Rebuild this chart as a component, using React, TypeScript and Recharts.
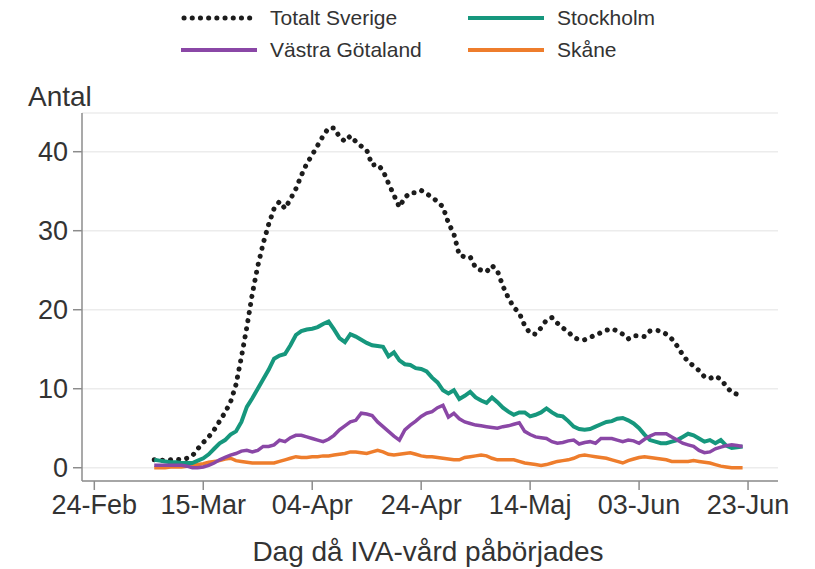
import { LineChart, Line, XAxis, YAxis, CartesianGrid } from 'recharts'

// ─── Data ─────────────────────────────────────────────────────────────────────

// days counted from 24-Feb; series start on day 11 (06-Mar)
const FIRST_DAY = 11

const xTicks = [0, 20, 40, 60, 80, 100, 120]
const xTickLabels = ['24-Feb', '15-Mar', '04-Apr', '24-Apr', '14-Maj', '03-Jun', '23-Jun']
const yTicks = [0, 10, 20, 30, 40]

const totaltSverige = [
  1.0, 1.0, 0.9, 1.0, 1.1, 1.0, 1.2, 1.5, 2.4, 3.2,
  3.9, 4.8, 5.9, 7.0, 8.3, 10.5, 14.0, 17.8, 22.0, 25.5,
  28.4, 30.8, 32.8, 33.7, 32.8, 34.0, 35.3, 37.0, 38.5, 39.6,
  40.8, 42.0, 43.0, 43.0, 41.9, 41.3, 42.0, 41.3, 40.7, 40.2,
  38.3, 38.4, 37.6, 36.0, 34.5, 33.0, 34.2, 34.8, 34.8, 35.1,
  34.7, 34.2, 33.7, 33.0, 31.0, 29.6, 26.9, 26.7, 26.7, 25.3,
  25.0, 24.8, 25.6, 24.9, 23.0, 21.5, 20.3, 19.6, 18.0, 17.0,
  16.9, 17.7, 18.7, 19.0, 18.3, 17.7, 17.2, 16.5, 16.2, 16.2,
  16.5, 16.8, 17.1, 17.4, 17.6, 17.3, 16.9, 16.3, 16.7, 16.7,
  16.6, 17.3, 17.4, 17.3, 16.9, 16.3, 15.4, 14.3, 13.4, 12.9,
  12.3, 11.5, 11.3, 11.6, 11.2, 10.3, 9.5, 9.3, 9.7,
]

const stockholm = [
  1.0, 0.9, 0.8, 0.7, 0.7, 0.6, 0.6, 0.6, 0.9, 1.2,
  1.7, 2.4, 3.1, 3.5, 4.2, 4.6, 5.8, 7.7, 8.8, 10.0,
  11.2, 12.4, 13.8, 14.2, 14.4, 15.5, 16.8, 17.3, 17.5, 17.6,
  17.8, 18.2, 18.5, 17.5, 16.4, 15.9, 16.9, 16.6, 16.2, 15.8,
  15.5, 15.4, 15.3, 14.1, 14.6, 13.6, 13.1, 13.0, 12.6, 12.5,
  12.2, 11.4, 10.8, 9.8, 9.4, 9.8, 8.7, 9.1, 9.6, 8.9,
  8.5, 8.2, 8.9, 8.3, 7.6, 7.1, 6.7, 7.0, 7.0, 6.5,
  6.7, 7.0, 7.5, 7.0, 6.6, 6.5, 5.9, 5.2, 4.9, 4.8,
  4.9, 5.2, 5.5, 5.8, 5.9, 6.2, 6.3, 6.0, 5.6, 5.0,
  4.2, 3.5, 3.3, 3.1, 3.1, 3.3, 3.5, 3.9, 4.3, 4.1,
  3.7, 3.3, 3.5, 3.1, 3.5, 2.8, 2.5, 2.6, 2.7,
]

const vastraGotaland = [
  0.3, 0.3, 0.3, 0.3, 0.3, 0.3, 0.2, 0.0, 0.0, 0.1,
  0.3, 0.6, 1.0, 1.3, 1.6, 1.8, 2.1, 2.2, 2.0, 2.2,
  2.7, 2.7, 2.9, 3.5, 3.3, 3.8, 4.1, 4.1, 3.9, 3.7,
  3.5, 3.3, 3.6, 4.1, 4.8, 5.3, 5.8, 6.0, 6.9, 6.8,
  6.6, 5.8, 5.2, 4.6, 4.0, 3.5, 4.8, 5.4, 5.9, 6.5,
  6.9, 7.1, 7.6, 7.9, 6.4, 6.9, 6.2, 5.8, 5.6, 5.4,
  5.3, 5.2, 5.1, 5.0, 5.2, 5.3, 5.5, 5.7, 4.6, 4.2,
  3.9, 3.8, 3.7, 3.3, 3.1, 3.2, 3.4, 3.5, 3.0, 3.2,
  3.3, 3.1, 3.7, 3.7, 3.7, 3.5, 3.3, 3.5, 3.4, 3.1,
  3.6, 4.0, 4.3, 4.3, 4.3, 3.9, 3.5, 3.1, 2.9, 2.7,
  2.2, 1.9, 2.0, 2.4, 2.6, 2.8, 2.9, 2.8, 2.7,
]

const skane = [
  0.0, 0.0, 0.0, 0.1, 0.1, 0.1, 0.2, 0.3, 0.4, 0.5,
  0.7, 0.8, 0.9, 1.1, 1.2, 0.9, 0.8, 0.7, 0.6, 0.6,
  0.6, 0.6, 0.6, 0.8, 1.0, 1.2, 1.4, 1.3, 1.3, 1.4,
  1.4, 1.5, 1.5, 1.6, 1.7, 1.8, 2.0, 2.0, 1.9, 1.8,
  2.0, 2.2, 2.0, 1.7, 1.6, 1.7, 1.8, 1.9, 1.7, 1.5,
  1.4, 1.4, 1.3, 1.2, 1.1, 1.0, 1.0, 1.3, 1.4, 1.5,
  1.6, 1.5, 1.2, 1.0, 1.0, 1.0, 1.0, 0.8, 0.6, 0.5,
  0.4, 0.3, 0.4, 0.6, 0.8, 0.9, 1.0, 1.2, 1.5, 1.6,
  1.5, 1.4, 1.3, 1.2, 1.0, 0.8, 0.6, 0.9, 1.1, 1.3,
  1.4, 1.3, 1.2, 1.1, 1.0, 0.8, 0.8, 0.8, 0.8, 0.9,
  0.8, 0.7, 0.6, 0.4, 0.2, 0.1, 0.0, 0.0, 0.0,
]

const data = totaltSverige.map((v, i) => ({
  day: FIRST_DAY + i,
  sverige: v,
  stockholm: stockholm[i],
  vg: vastraGotaland[i],
  skane: skane[i],
}))

// ─── Styles ───────────────────────────────────────────────────────────────────

const FONT = '"Liberation Sans", Arial, Helvetica, sans-serif'
const TEXT = '#333333'
const AXIS = '#8c8c8c'
const C_SVERIGE = '#1c1c1c'
const C_STHLM = '#16977d'
const C_VG = '#8a47a6'
const C_SKANE = '#ee7d2c'

function LegendItem({ x, y, label, color, dotted }: {
  x: number; y: number; label: string; color: string; dotted?: boolean
}) {
  return (
    <div style={{ position: 'absolute', left: x, top: y, display: 'flex', alignItems: 'center' }}>
      <svg width={80} height={10} style={{ marginRight: 9 }}>
        {dotted ? (
          <line x1={3} y1={5} x2={76} y2={5} stroke={color} strokeWidth={5}
            strokeDasharray="0.1 8.1" strokeLinecap="round" />
        ) : (
          <line x1={0} y1={5} x2={76} y2={5} stroke={color} strokeWidth={4} />
        )}
      </svg>
      <span style={{ fontSize: 21, color: TEXT, lineHeight: '24px' }}>{label}</span>
    </div>
  )
}

// ─── Component ────────────────────────────────────────────────────────────────

export default function App() {
  return (
    <div style={{ position: 'relative', width: 815, height: 569, background: '#fff', fontFamily: FONT, overflow: 'hidden' }}>
      <style>{'body{margin:0;background:#fff}'}</style>

      <LegendItem x={181} y={6} label="Totalt Sverige" color={C_SVERIGE} dotted />
      <LegendItem x={468} y={6} label="Stockholm" color={C_STHLM} />
      <LegendItem x={181} y={38} label="Västra Götaland" color={C_VG} />
      <LegendItem x={468} y={38} label="Skåne" color={C_SKANE} />

      <div style={{ position: 'absolute', left: 28, top: 81, fontSize: 28, color: TEXT }}>Antal</div>

      <div style={{ position: 'absolute', left: 0, top: 0 }}>
        <LineChart width={815} height={569} data={data} margin={{ top: 113, right: 37, bottom: 28, left: 0 }}>
          <CartesianGrid vertical={false} stroke="#ececec" strokeWidth={1.5} />
          <XAxis
            dataKey="day"
            type="number"
            domain={[-2.26, 125.5]}
            ticks={xTicks}
            allowDataOverflow
            height={60}
            tickFormatter={(v: number) => xTickLabels[xTicks.indexOf(v)] ?? ''}
            tick={{ fontSize: 27, fill: TEXT, fontFamily: FONT }}
            stroke={AXIS}
            strokeWidth={1.5}
            tickSize={9}
            tickMargin={5}
            interval={0}
          />
          <YAxis
            type="number"
            domain={[-1.68, 44.9]}
            ticks={yTicks}
            allowDataOverflow
            width={82}
            tick={{ fontSize: 27, fill: TEXT, fontFamily: FONT }}
            stroke={AXIS}
            strokeWidth={1.5}
            tickSize={9}
            tickMargin={5}
            interval={0}
          />
          <Line type="linear" dataKey="sverige" stroke={C_SVERIGE} strokeWidth={5}
            strokeDasharray="0.1 8.1" strokeLinecap="round" dot={false} isAnimationActive={false} />
          <Line type="linear" dataKey="skane" stroke={C_SKANE} strokeWidth={3.5} dot={false} isAnimationActive={false} />
          <Line type="linear" dataKey="stockholm" stroke={C_STHLM} strokeWidth={4} dot={false} isAnimationActive={false} />
          <Line type="linear" dataKey="vg" stroke={C_VG} strokeWidth={3.5} dot={false} isAnimationActive={false} />
        </LineChart>
      </div>

      <div style={{ position: 'absolute', left: 0, width: 856, top: 536, textAlign: 'center', fontSize: 28, color: TEXT }}>
        Dag då IVA-vård påbörjades
      </div>
    </div>
  )
}
